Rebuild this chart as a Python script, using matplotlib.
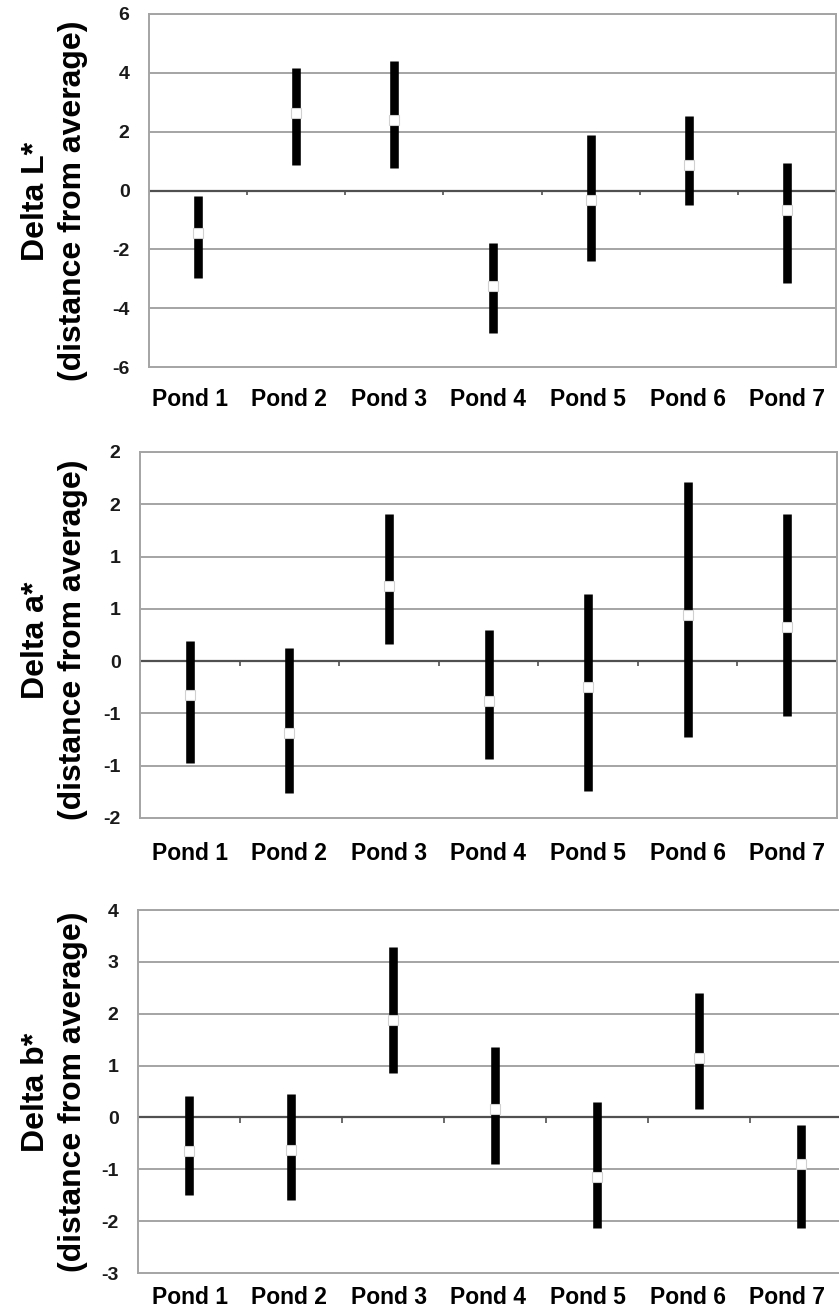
import matplotlib
matplotlib.use("Agg")
import matplotlib.pyplot as plt
import numpy as np

ponds = ["Pond 1", "Pond 2", "Pond 3", "Pond 4", "Pond 5", "Pond 6", "Pond 7"]

# Delta L*
L_mid = [-1.43, 2.65, 2.38, -3.26, -0.31, 0.85, -0.65]
L_lo = [-2.96, 0.88, 0.78, -4.83, -2.41, -0.50, -3.13]
L_hi = [-0.20, 4.15, 4.39, -1.77, 1.87, 2.52, 0.95]
L_ticks = [-6, -4, -2, 0, 2, 4, 6]
L_ticklabels = ["-6", "-4", "-2", "0", "2", "4", "6"]

# Delta a*
a_mid = [-0.32, -0.69, 0.72, -0.38, -0.25, 0.44, 0.33]
a_lo = [-0.97, -1.26, 0.16, -0.94, -1.24, -0.73, -0.52]
a_hi = [0.19, 0.13, 1.41, 0.30, 0.64, 1.71, 1.41]
a_ticks = [-1.5, -1.0, -0.5, 0, 0.5, 1.0, 1.5, 2.0]
a_ticklabels = ["-2", "-1", "-1", "0", "1", "1", "2", "2"]  # excel-rounded labels

# Delta b*
b_mid = [-0.65, -0.62, 1.87, 0.17, -1.14, 1.14, -0.89]
b_lo = [-1.50, -1.60, 0.85, -0.89, -2.14, 0.17, -2.14]
b_hi = [0.42, 0.46, 3.29, 1.35, 0.29, 2.39, -0.15]
b_ticks = [-3, -2, -1, 0, 1, 2, 3, 4]
b_ticklabels = ["-3", "-2", "-1", "0", "1", "2", "3", "4"]

W, H = 839, 1310
fig = plt.figure(figsize=(W / 100, H / 100), dpi=100)
plt.rcParams["font.family"] = ["Liberation Sans", "DejaVu Sans"]

# (left, right, top, bottom) in pixels, label center y, x-label pad
panels = [
    ("Delta L*", L_mid, L_lo, L_hi, L_ticks, L_ticklabels, (149, 836, 14, 367), 201, 15),
    ("Delta a*", a_mid, a_lo, a_hi, a_ticks, a_ticklabels, (140, 837, 452, 818), 640, 17),
    ("Delta b*", b_mid, b_lo, b_hi, b_ticks, b_ticklabels, (138, 852, 910, 1273), 1092, 9),
]
# the category labels sit on the same columns in every panel
lab_left, lab_right = 140, 837

grid_c = "#a4a4a4"
for name, mid, lo, hi, ticks, labels, (l, r, t, b), lab_y, xpad in panels:
    ax = fig.add_axes([l / W, 1 - b / H, (r - l) / W, (b - t) / H])
    n = len(ponds)
    x = np.arange(n)
    ax.set_xlim(-0.5, n - 0.5)
    ax.set_ylim(ticks[0], ticks[-1])

    for yv in ticks[1:]:
        if yv != 0:
            ax.axhline(yv, color=grid_c, lw=1.4, zorder=1)
    ax.axhline(0, color="#505050", lw=1.6, zorder=2)

    # little tick marks on the zero axis between categories
    bounds = np.arange(n + 1) - 0.5
    span = ticks[-1] - ticks[0]
    ax.vlines(bounds, 0, -span * 0.014, color="#505050", lw=1.2, zorder=2)

    ax.vlines(x, lo, hi, color="black", lw=6.2, capstyle="butt", zorder=3)
    ax.plot(x, mid, ls="none", marker="s", ms=7, mfc="white",
            mec="#d0d0d0", mew=0.8, zorder=4)

    for s in ax.spines.values():
        s.set_color(grid_c)
        s.set_linewidth(1.4)

    ax.set_yticks(ticks)
    ax.set_yticklabels(labels, fontsize=14, fontweight="bold", color="#1a1a1a")

    lab_px = lab_left + (x + 0.5) * (lab_right - lab_left) / n
    ax.set_xticks((lab_px - l) / (r - l) * n - 0.5)
    ax.set_xticklabels(ponds, fontsize=16.5, fontweight="bold")
    ax.tick_params(axis="both", length=0)
    ax.tick_params(axis="y", pad=14)
    ax.tick_params(axis="x", pad=xpad)

    ax.set_ylabel(name + "\n(distance from average)", fontsize=23,
                  fontweight="bold", linespacing=1.3)
    ax.yaxis.set_label_coords((88 - l) / (r - l), (b - lab_y) / (b - t))

fig.savefig("out.png", dpi=100)
